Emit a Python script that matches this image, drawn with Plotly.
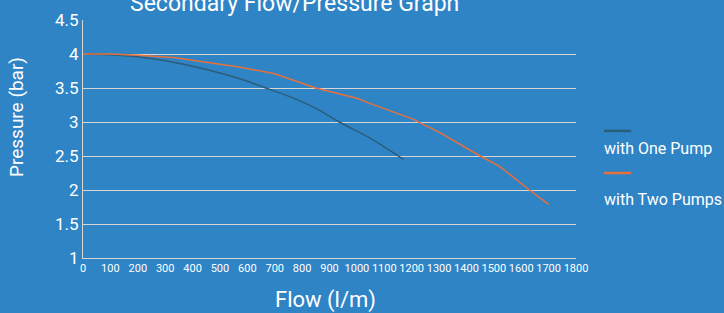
import plotly.graph_objects as go

# Data
one_flow = [0, 100, 200, 300, 400, 500, 600, 660, 750, 850, 935, 1050, 1170]
one_pres = [4.0, 3.99, 3.96, 3.9, 3.82, 3.72, 3.6, 3.51, 3.38, 3.2, 3.0, 2.76, 2.45]
two_flow = [0, 100, 200, 330, 450, 570, 700, 850, 1000, 1050, 1200, 1300, 1450, 1520, 1630, 1700]
two_pres = [4.0, 4.0, 3.98, 3.95, 3.88, 3.81, 3.71, 3.5, 3.35, 3.27, 3.05, 2.85, 2.5, 2.35, 2.0, 1.79]
series_names = ["with One Pump", "with Two Pumps"]
series_colors = ["#2b5d78", "#e8703a"]
x_ticks = list(range(0, 1801, 100))
y_ticks = [1, 1.5, 2, 2.5, 3, 3.5, 4, 4.5]

BG = "#2f84c6"
GRID = "#d6d6d6"
FONT = "Roboto"

fig = go.Figure()
fig.add_trace(go.Scatter(x=one_flow, y=one_pres, mode="lines", name=series_names[0],
                         line=dict(color=series_colors[0], width=1.5, shape="spline", smoothing=0.8)))
fig.add_trace(go.Scatter(x=two_flow, y=two_pres, mode="lines", name=series_names[1],
                         line=dict(color=series_colors[1], width=1.5)))

# custom legend: line above label
leg_line_y = [0.534, 0.357]
leg_text_y = [0.458, 0.244]
for i, (nm, col) in enumerate(zip(series_names, series_colors)):
    fig.add_shape(type="line", xref="paper", yref="paper",
                  x0=1.057, x1=1.112, y0=leg_line_y[i], y1=leg_line_y[i],
                  line=dict(color=col, width=2.5))
    fig.add_annotation(xref="paper", yref="paper", x=1.053, y=leg_text_y[i],
                       text=nm, showarrow=False, xanchor="left", yanchor="middle",
                       font=dict(family=FONT, size=16, color="white"))

fig.add_annotation(xref="paper", yref="paper", x=0.43, y=1.0, yshift=17,
                   text="Secondary Flow/Pressure Graph", showarrow=False,
                   xanchor="center", yanchor="middle",
                   font=dict(family=FONT, size=23, color="white"))

# axis titles
fig.add_annotation(xref="paper", yref="paper", x=0.491, y=-0.176,
                   text="Flow (l/m)", showarrow=False, xanchor="center", yanchor="middle",
                   font=dict(family=FONT, size=22, color="white"))
fig.add_annotation(xref="paper", yref="paper", x=-0.136, y=0.592, textangle=-90,
                   text="Pressure (bar)", showarrow=False, xanchor="center", yanchor="middle",
                   font=dict(family=FONT, size=19, color="white"))

fig.update_layout(
    width=724, height=313,
    margin=dict(l=83, r=148, t=20, b=55),
    paper_bgcolor=BG, plot_bgcolor=BG,
    showlegend=False,
    font=dict(family=FONT, color="white"),
    xaxis=dict(range=[0, 1800], tickvals=x_ticks, ticktext=[str(v) for v in x_ticks],
               showgrid=False, zeroline=False, showline=True, linecolor=GRID, linewidth=1,
               tickfont=dict(size=11, color="white", family=FONT), ticks="", automargin=False),
    yaxis=dict(range=[1, 4.5], tickvals=y_ticks, ticktext=["1", "1.5", "2", "2.5", "3", "3.5", "4", "4.5"],
               showgrid=True, gridcolor=GRID, gridwidth=1, zeroline=False,
               showline=True, linecolor=GRID, linewidth=1, ticks="", automargin=False,
               tickfont=dict(size=17, color="white", family=FONT)),
)

fig.write_html("out.html", config={"displayModeBar": False},
               post_script="document.body.style.margin='0';document.body.style.background='#2f84c6';")
